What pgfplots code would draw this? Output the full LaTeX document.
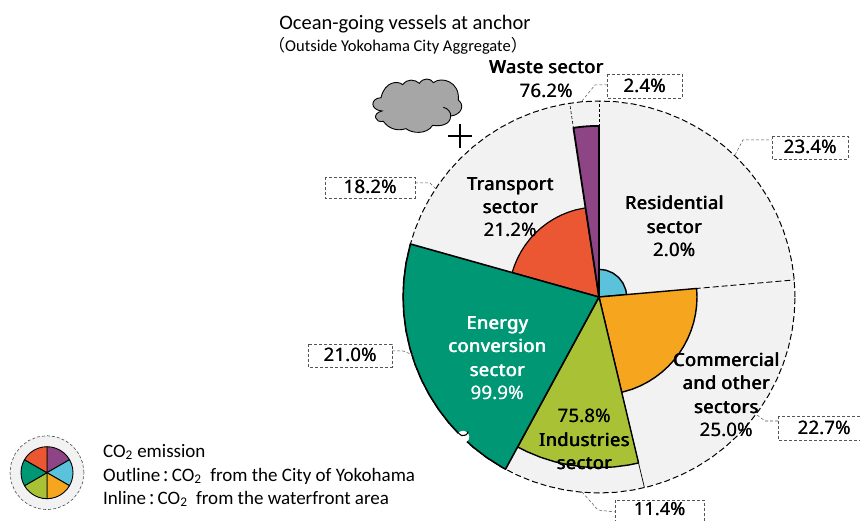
\documentclass[border=0pt]{standalone}
\usepackage{pgfplots}
\pgfplotsset{compat=1.18}
\usepgfplotslibrary{polar}
\usepackage{fontspec}
\setmainfont{Carlito}
\newfontfamily\lab{Noto Sans}[LetterSpace=1]
\newfontfamily\labb{Noto Sans}[LetterSpace=3]
\newfontfamily\cjk{Noto Sans CJK JP}
\definecolor{cteal}{HTML}{009874}
\definecolor{cred}{HTML}{EB5733}
\definecolor{cpur}{HTML}{8E4585}
\definecolor{cblue}{HTML}{5BC2DC}
\definecolor{corg}{HTML}{F5A51E}
\definecolor{clime}{HTML}{A9C134}
\definecolor{cgray}{HTML}{F2F2F2}
\definecolor{ccloud}{HTML}{A6A6A6}
\definecolor{cbox}{HTML}{555555}
% percent figures: slightly emboldened by a second, offset copy
\newcommand\PP[4]{\node[anchor=base,text=#4,inner sep=0pt,font=\lab\fontsize{#3}{20}\selectfont] at (#1) {#2};
  \node[anchor=base,text=#4,inner sep=0pt,xshift=0.4pt,font=\lab\fontsize{#3}{20}\selectfont] at (#1) {#2};}
% sector names: heavier, three offset copies
\newcommand\NM[3]{\node[anchor=base,text=#3,inner sep=0pt,font=\labb\fontsize{18}{20}\selectfont] at ([yshift=-1.5pt]#1) {#2};
  \node[anchor=base,text=#3,inner sep=0pt,xshift=0.4pt,font=\labb\fontsize{18}{20}\selectfont] at ([yshift=-1.5pt]#1) {#2};
  \node[anchor=base,text=#3,inner sep=0pt,xshift=0.8pt,font=\labb\fontsize{18}{20}\selectfont] at ([yshift=-1.5pt]#1) {#2};}
\newcommand\N[2]{\PP{[yshift=-1.5pt]#1}{#2}{18.5}{black}}
\newcommand\W[2]{\NM{#1}{#2}{black}}
\newcommand\B[5]{\draw[cbox,densely dashed,line width=0.6pt,fill=white] (#1,#2) rectangle (#3,#4);
  \PP{{(#1+#3)/2},{(#2+#4)/2+6.5}}{#5}{18.5}{black}}
\begin{document}
\begin{tikzpicture}[x=1pt,y=1pt]
\path[use as bounding box] (0,0) rectangle (860,520);
\begin{axis}[at={(0pt,0pt)},anchor=south west,scale only axis,width=860pt,height=520pt,
  xmin=-599,xmax=261,ymin=-223,ymax=297,hide axis,clip=false,
  every axis plot/.append style={data cs=polar,line join=round}]
% outer disk
\addplot[draw=none,fill=cgray] coordinates {(0,196)(10,196)(20,196)(30,196)(40,196)(50,196)(60,196)(70,196)(80,196)(90,196)(100,196)(110,196)(120,196)(130,196)(140,196)(150,196)(160,196)(170,196)(180,196)(190,196)(200,196)(210,196)(220,196)(230,196)(240,196)(250,196)(260,196)(270,196)(280,196)(290,196)(300,196)(310,196)(320,196)(330,196)(340,196)(350,196)(360,196)};
\addplot[black,dash pattern=on 6pt off 3pt,line width=1pt] coordinates {(0,196)(5,196)(10,196)(15,196)(20,196)(25,196)(30,196)(35,196)(40,196)(45,196)(50,196)(55,196)(60,196)(65,196)(70,196)(75,196)(80,196)(85,196)(90,196)(95,196)(100,196)(105,196)(110,196)(115,196)(120,196)(125,196)(130,196)(135,196)(140,196)(145,196)(150,196)(155,196)(160,196)(165,196)(170,196)(175,196)(180,196)(185,196)(190,196)(195,196)(200,196)(205,196)(210,196)(215,196)(220,196)(225,196)(230,196)(235,196)(240,196)(245,196)(250,196)(255,196)(260,196)(265,196)(270,196)(275,196)(280,196)(285,196)(290,196)(295,196)(300,196)(305,196)(310,196)(315,196)(320,196)(325,196)(330,196)(335,196)(340,196)(345,196)(350,196)(355,196)(360,196)};
% outer radial dividers
\addplot[black,densely dashed,line width=0.6pt] coordinates {(90,170)(90,196)};
\addplot[black,densely dashed,line width=0.6pt] coordinates {(98.6,170)(98.6,196)};
\addplot[black,dash pattern=on 6pt off 3pt,line width=0.9pt] coordinates {(5,96)(5,196)};
\addplot[black,line width=0.7pt] coordinates {(283.4,96)(283.4,196)};
% Residential 2.0 %
\addplot[draw=black,fill=cblue,line width=1.4pt] coordinates {(0,0)(5,27.7)(15,27.7)(30,27.7)(45,27.7)(60,27.7)(75,27.7)(90,27.7)(0,0)};
% Commercial 25.0 %
\addplot[draw=black,fill=corg,line width=1.4pt] coordinates {(0,0)(283.4,98)(290,98)(295,98)(300,98)(305,98)(310,98)(315,98)(320,98)(325,98)(330,98)(335,98)(340,98)(345,98)(350,98)(355,98)(360,98)(365,98)(0,0)};
% Industries 75.8 %
\addplot[draw=black,fill=clime,line width=1.4pt] coordinates {(0,0)(241.5,170.6)(245,170.6)(250,170.6)(255,170.6)(260,170.6)(265,170.6)(270,170.6)(275,170.6)(280,170.6)(283.4,170.6)(0,0)};
% Transport 21.2 %
\addplot[draw=black,fill=cred,line width=1.2pt] coordinates {(0,0)(98.6,90.2)(105,90.2)(110,90.2)(115,90.2)(120,90.2)(125,90.2)(130,90.2)(135,90.2)(140,90.2)(145,90.2)(150,90.2)(155,90.2)(160,90.2)(164.3,90.2)(0,0)};
% Energy 99.9 %
\addplot[draw=black,fill=cteal,line width=1.6pt] coordinates {(0,0)(164.3,195.9)(170,195.9)(175,195.9)(180,195.9)(185,195.9)(190,195.9)(195,195.9)(200,195.9)(205,195.9)(210,195.9)(215,195.9)(220,195.9)(225,195.9)(230,195.9)(235,195.9)(240,195.9)(241.5,195.9)(0,0)};
% Waste 76.2 %
\addplot[draw=black,fill=cpur,line width=1.8pt] coordinates {(0,0)(90,171.1)(92,171.1)(94,171.1)(96,171.1)(98.6,171.1)(0,0)};
\end{axis}
% legend pie
\begin{axis}[at={(0pt,0.3pt)},anchor=south west,scale only axis,width=94pt,height=94pt,
  xmin=-47,xmax=47,ymin=-47,ymax=47,hide axis,clip=false,
  every axis plot/.append style={data cs=polar,line join=round}]
\addplot[draw=black!70,densely dashed,line width=0.6pt,fill=cgray] coordinates {(0,37)(15,37)(30,37)(45,37)(60,37)(75,37)(90,37)(105,37)(120,37)(135,37)(150,37)(165,37)(180,37)(195,37)(210,37)(225,37)(240,37)(255,37)(270,37)(285,37)(300,37)(315,37)(330,37)(345,37)(360,37)};
\addplot[draw=black,fill=cpur,line width=0.9pt] coordinates {(0,0)(30,26)(40,26)(50,26)(60,26)(70,26)(80,26)(90,26)(0,0)};
\addplot[draw=black,fill=cblue,line width=0.9pt] coordinates {(0,0)(-30,26)(-20,26)(-10,26)(0,26)(10,26)(20,26)(30,26)(0,0)};
\addplot[draw=black,fill=corg,line width=0.9pt] coordinates {(0,0)(-90,26)(-80,26)(-70,26)(-60,26)(-50,26)(-40,26)(-30,26)(0,0)};
\addplot[draw=black,fill=clime,line width=0.9pt] coordinates {(0,0)(-150,26)(-140,26)(-130,26)(-120,26)(-110,26)(-100,26)(-90,26)(0,0)};
\addplot[draw=black,fill=cteal,line width=0.9pt] coordinates {(0,0)(150,26)(160,26)(170,26)(180,26)(190,26)(200,26)(210,26)(0,0)};
\addplot[draw=black,fill=cred,line width=0.9pt] coordinates {(0,0)(90,26)(100,26)(110,26)(120,26)(130,26)(140,26)(150,26)(0,0)};
\end{axis}
% annotations in reference pixel coordinates (y downwards)
\begin{scope}[x=1pt,y=-1pt,yshift=520pt]
\begin{scope}
\clip (463,437) circle (6.2);
\fill[white,rotate around={-45:(463,437)}] (457,431) rectangle (469,443);
\end{scope}
\draw[black,line width=1.1pt] (458.5,433.2) arc (150:10:5.2);
% cloud
\draw[black,line width=0.9pt,fill=ccloud,shift={(320,60)},x=0.3333pt,y=-0.3333pt]
 (183,113) .. controls (195,62) and (235,62) .. (248,74)
 .. controls (262,55) and (285,58) .. (298,70)
 .. controls (310,52) and (332,54) .. (340,68)
 .. controls (365,48) and (420,65) .. (415,120)
 .. controls (435,135) and (425,165) .. (392,168)
 .. controls (392,195) and (360,200) .. (338,196)
 .. controls (320,225) and (275,220) .. (258,206)
 .. controls (230,215) and (205,205) .. (190,184)
 .. controls (165,190) and (155,160) .. (186,153)
 .. controls (150,150) and (150,115) .. (183,113) -- cycle;
\draw[black,line width=0.9pt,shift={(320,60)},x=0.3333pt,y=-0.3333pt] (370,142) .. controls (385,145) and (393,158) .. (392,168);
% plus
\draw[black,line width=2.2pt] (448,136) -- (472,136) (460,124) -- (460,148);
% titles
\node[anchor=base,inner sep=0pt,font=\fontsize{20.5}{22}\selectfont] at (405,30) {Ocean-going vessels at anchor};
\node[anchor=base,inner sep=0pt,font=\fontsize{16.5}{18}\selectfont] at (398,52) {{\cjk（}Outside Yokohama City Aggregate{\cjk）}};
% leaders and boxes
\draw[cbox,densely dashed,line width=0.5pt] (582,101) -- (595,85) -- (607,85);
\draw[cbox,densely dashed,line width=0.5pt] (735,155) -- (743,140) -- (772,140);
\draw[cbox,densely dashed,line width=0.5pt] (415,183) -- (430,183) -- (437,190);
\draw[cbox,densely dashed,line width=0.5pt] (392,351) -- (403,351) -- (416,356);
\draw[cbox,densely dashed,line width=0.5pt] (757,415) -- (765,421) -- (778,421);
\draw[cbox,densely dashed,line width=0.5pt] (582,492) -- (598,510) -- (615,512);
\B{607}{74}{682}{98}{2.4\%}
\B{772}{136}{848}{159}{23.4\%}
\B{325}{177}{415}{198}{18.2\%}
\B{308}{344}{392}{367}{21.0\%}
\B{778}{416}{870}{440}{22.7\%}
\draw[cbox,densely dashed,line width=0.6pt,fill=white] (615,500) rectangle (704,526);
\PP{659.5,515.5}{11.4\%}{18}{black}
% sector labels
\W{546,72}{Waste sector}
\N{546,96}{76.2\%}
\W{674,208}{Residential}
\W{674,232}{sector}
\N{674,255}{2.0\%}
\W{510,189}{Transport}
\W{510,212}{sector}
\N{510,235}{21.2\%}
\NM{497,328}{Energy}{white}
\NM{497,351}{conversion}{white}
\NM{497,375}{sector}{white}
\PP{[yshift=-1.5pt]497,398}{99.9\%}{18.5}{white}
\N{584,421}{75.8\%}
\W{584,445}{Industries}
\W{584,468}{sector}
\W{726,365}{Commercial}
\W{726,388}{and other}
\W{726,412}{sectors}
\N{726,435}{25.0\%}
% legend text
\node[anchor=base west,inner sep=0pt,font=\fontsize{19}{20}\selectfont] at (103,457) {CO\textsubscript{2} emission};
\node[anchor=base west,inner sep=0pt,font=\fontsize{19}{20}\selectfont] at (103,481) {Outline{\cjk\,:\,}CO\textsubscript{2}\ \ from the City of Yokohama};
\node[anchor=base west,inner sep=0pt,font=\fontsize{19}{20}\selectfont] at (103,504) {Inline{\cjk\,:\,}CO\textsubscript{2}\ \ from the waterfront area};
\end{scope}
\end{tikzpicture}
\end{document}
